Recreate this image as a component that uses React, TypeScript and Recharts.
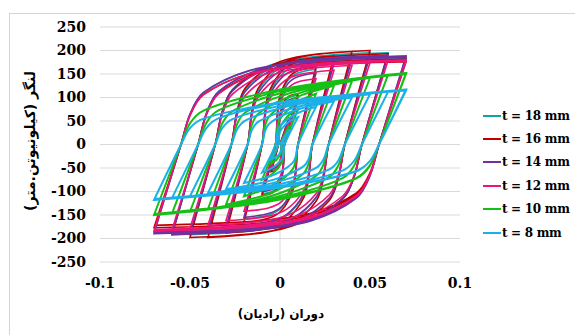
import React from 'react';
import { LineChart, CartesianGrid, XAxis, YAxis, Line, ReferenceLine } from 'recharts';

// rotation (rad) along the loading path, shared by all specimens
const rotation = [
    0, 0.005,
    0.001, 0.0008, 0.0004, -0.0008, -0.0023, -0.005,
    -0.001, -0.0006, 0.0001, 0.0023, 0.005, 0.01,
    0.0025, 0.002, 0.0013, -0.0013, -0.0044, -0.01,
    -0.0025, -0.0016, -0.0003, 0.0043, 0.0099, 0.02,
    0.01, 0.0088, 0.007, 0.001, -0.0065, -0.02,
    -0.01, -0.0084, -0.006, 0.002, 0.012, 0.03,
    0.018, 0.0161, 0.0132, 0.0036, -0.0084, -0.03,
    -0.018, -0.0157, -0.0122, -0.0006, 0.0139, 0.04,
    0.027, 0.0243, 0.0203, 0.0069, -0.0099, -0.04,
    -0.027, -0.0239, -0.0193, -0.0039, 0.0154, 0.05,
    0.036, 0.0326, 0.0274, 0.0102, -0.0113, -0.05,
    -0.036, -0.0322, -0.0264, -0.0072, 0.0168, 0.06,
    0.0455, 0.0413, 0.035, 0.0139, -0.0125, -0.06,
    -0.0455, -0.0409, -0.034, -0.0109, 0.018, 0.07,
    0.055, 0.05, 0.0425, 0.0175, -0.0138, -0.07,
    -0.055, -0.05, -0.0425, -0.0175, 0.0138, 0.07,
    0.055, 0.05, 0.0425, 0.0175, -0.0138, -0.07,
];

// moment (kN.m) for each plate thickness
const t18 = [
    0, 55,
    0, -19, -33, -47, -52, -55,
    0, 37, 63, 89, 100, 105, 0, -37, -63, -89, -100, -105,
    0, 56, 96, 136, 152, 160, 0, -55, -95, -134, -150, -158,
    0, 63, 108, 153, 171, 180, 0, -62, -107, -151, -169, -178,
    0, 67, 114, 162, 181, 190, 0, -65, -112, -159, -178, -187,
    0, 68, 117, 166, 185, 195, 0, -67, -115, -163, -182, -192,
    0, 68, 117, 166, 185, 195, 0, -67, -115, -163, -182, -192,
    0, 66, 113, 160, 179, 188, 0, -65, -112, -158, -177, -186,
    0, 64, 110, 156, 174, 183, 0, -64, -109, -155, -173, -182,
];
const t16 = [
    0, 58,
    0, -20, -35, -49, -55, -58,
    0, 38, 65, 92, 103, 108, 0, -38, -65, -92, -103, -108,
    0, 58, 99, 140, 157, 165, 0, -58, -99, -140, -157, -165,
    0, 66, 113, 160, 179, 188, 0, -66, -113, -160, -179, -188,
    0, 69, 119, 168, 188, 198, 0, -69, -119, -168, -188, -198,
    0, 70, 120, 170, 190, 200, 0, -69, -119, -168, -188, -198,
    0, 68, 116, 164, 183, 193, 0, -67, -114, -162, -181, -190,
    0, 64, 109, 155, 173, 182, 0, -62, -106, -150, -168, -177,
    0, 62, 106, 150, 167, 176, 0, -60, -103, -146, -163, -172,
];
const t14 = [
    0, 52,
    0, -18, -31, -44, -49, -52,
    0, 35, 60, 85, 95, 100, 0, -35, -60, -85, -95, -100,
    0, 53, 91, 129, 144, 152, 0, -54, -93, -132, -147, -155,
    0, 60, 103, 146, 163, 172, 0, -61, -105, -149, -166, -175,
    0, 64, 109, 155, 173, 182, 0, -65, -111, -157, -176, -185,
    0, 66, 113, 160, 179, 188, 0, -67, -114, -162, -181, -190,
    0, 67, 114, 162, 181, 190, 0, -67, -115, -163, -182, -192,
    0, 66, 113, 160, 179, 188, 0, -67, -114, -162, -181, -190,
    0, 65, 111, 157, 176, 185, 0, -65, -112, -159, -178, -187,
];
const t12 = [
    0, 48,
    0, -17, -29, -41, -46, -48,
    0, 32, 55, 78, 87, 92, 0, -32, -55, -78, -87, -92,
    0, 49, 84, 119, 133, 140, 0, -50, -85, -121, -135, -142,
    0, 55, 95, 134, 150, 158, 0, -57, -97, -138, -154, -162,
    0, 59, 101, 143, 160, 168, 0, -60, -103, -146, -163, -172,
    0, 61, 104, 148, 165, 174, 0, -62, -107, -151, -169, -178,
    0, 62, 107, 151, 169, 178, 0, -64, -109, -155, -173, -182,
    0, 63, 108, 153, 171, 180, 0, -64, -110, -156, -175, -184,
    0, 62, 106, 150, 168, 177, 0, -63, -109, -154, -172, -181,
];
const t10 = [
    0, 40,
    0, -12, -19, -27, -34, -40,
    0, 23, 36, 51, 63, 75, 0, -23, -36, -51, -63, -75,
    0, 32, 52, 73, 91, 108, 0, -33, -53, -75, -92, -110,
    0, 38, 60, 85, 105, 125, 0, -38, -61, -87, -108, -128,
    0, 41, 65, 92, 113, 135, 0, -41, -66, -93, -115, -137,
    0, 43, 68, 97, 119, 142, 0, -43, -69, -97, -120, -143,
    0, 44, 71, 101, 124, 148, 0, -44, -71, -100, -123, -147,
    0, 46, 73, 103, 128, 152, 0, -45, -72, -102, -126, -150,
    0, 45, 72, 102, 126, 150, 0, -44, -71, -101, -124, -148,
];
const t8 = [
    0, 32,
    0, -10, -15, -22, -27, -32,
    0, 17, 28, 39, 49, 58, 0, -18, -29, -41, -50, -60,
    0, 24, 38, 54, 67, 80, 0, -25, -39, -56, -69, -82,
    0, 28, 44, 63, 77, 92, 0, -29, -46, -65, -80, -95,
    0, 30, 48, 68, 84, 100, 0, -31, -49, -70, -87, -103,
    0, 32, 51, 73, 90, 107, 0, -33, -53, -75, -92, -110,
    0, 34, 54, 76, 94, 112, 0, -34, -55, -78, -96, -114,
    0, 35, 56, 80, 98, 117, 0, -35, -57, -80, -99, -118,
    0, 35, 55, 78, 97, 115, 0, -35, -56, -79, -97, -116,
];

const xTicks = [-0.1, -0.05, 0, 0.05, 0.1];
const yTicks = [-250, -200, -150, -100, -50, 0, 50, 100, 150, 200, 250];

const series = [
    { name: 't = 18 mm', values: t18, color: '#14a2a2', width: 1.6 },
    { name: 't = 16 mm', values: t16, color: '#c00000', width: 1.6 },
    { name: 't = 14 mm', values: t14, color: '#7030a0', width: 1.6 },
    { name: 't = 12 mm', values: t12, color: '#ee1574', width: 1.6 },
    { name: 't = 10 mm', values: t10, color: '#14c014', width: 2 },
    { name: 't = 8 mm', values: t8, color: '#1cb0ea', width: 2 },
];

const toPoints = (values: number[]) => rotation.map((x, i) => ({ x, m: values[i] }));

// smooth polyline (like Excel's smoothed lines) but keeps sharp corners at load reversals
const smoothCurve = (context: any) => {
    let pts: number[][] = [];
    return {
        areaStart() {},
        areaEnd() {},
        lineStart() {
            pts = [];
        },
        point(x: number, y: number) {
            pts.push([+x, +y]);
        },
        lineEnd() {
            const n = pts.length;
            if (!n) return;
            context.moveTo(pts[0][0], pts[0][1]);
            const dir = pts.map((p, i) => {
                if (i === 0 || i === n - 1) return null;
                const a = pts[i - 1];
                const b = pts[i + 1];
                const dot = (p[0] - a[0]) * (b[0] - p[0]) + (p[1] - a[1]) * (b[1] - p[1]);
                if (dot <= 0) return null;
                const tx = b[0] - a[0];
                const ty = b[1] - a[1];
                const l = Math.hypot(tx, ty);
                return l ? [tx / l, ty / l] : null;
            });
            for (let i = 0; i < n - 1; i++) {
                const p = pts[i];
                const q = pts[i + 1];
                const len = Math.hypot(q[0] - p[0], q[1] - p[1]) / 3;
                const c1 = dir[i] ? [p[0] + dir[i]![0] * len, p[1] + dir[i]![1] * len] : p;
                const c2 = dir[i + 1] ? [q[0] - dir[i + 1]![0] * len, q[1] - dir[i + 1]![1] * len] : q;
                context.bezierCurveTo(c1[0], c1[1], c2[0], c2[1], q[0], q[1]);
            }
        },
    };
};

const serif = '"DejaVu Serif", serif';
const tickStyle = { fontFamily: serif, fontWeight: 'bold', fontSize: 14, fill: '#000' };
const persian = { fontFamily: '"DejaVu Sans", sans-serif', fontWeight: 'bold', color: '#000', whiteSpace: 'nowrap' as const };

const App = () => {
    return (
        <div style={{ position: 'absolute', left: 0, top: 0, width: 575, height: 335, overflow: 'hidden', background: '#fff' }}>
            <div style={{ position: 'absolute', left: 9, top: 13, width: 600, height: 400, border: '1px solid #d4d4d4' }} />
            <LineChart width={575} height={335} margin={{ top: 27, right: 115, bottom: 43, left: 40 }}>
                <CartesianGrid vertical={false} stroke="#d9d9d9" />
                <XAxis
                    type="number"
                    dataKey="x"
                    domain={[-0.1, 0.1]}
                    ticks={xTicks}
                    axisLine={false}
                    tickLine={false}
                    tickMargin={10}
                    height={30}
                    tick={tickStyle}
                />
                <YAxis
                    type="number"
                    domain={[-250, 250]}
                    ticks={yTicks}
                    axisLine={false}
                    tickLine={false}
                    tickMargin={8}
                    width={60}
                    tick={tickStyle}
                />
                <ReferenceLine x={0} stroke="#d9d9d9" />
                {series.map((s) => (
                    <Line
                        key={s.name}
                        data={toPoints(s.values)}
                        dataKey="m"
                        name={s.name}
                        type={smoothCurve as any}
                        stroke={s.color}
                        strokeWidth={s.width}
                        dot={false}
                        activeDot={false}
                        isAnimationActive={false}
                    />
                ))}
            </LineChart>
            <div style={{ ...persian, fontSize: 14, position: 'absolute', left: 30, top: 141, transform: 'translate(-50%, -50%) rotate(-90deg)' }}>
                لنگر (کیلونیوتن.متر)
            </div>
            <div style={{ ...persian, fontSize: 12, position: 'absolute', left: 281, top: 314, transform: 'translate(-50%, -50%)' }}>
                دوران (رادیان)
            </div>
            <div style={{ position: 'absolute', left: 483, top: 104 }}>
                {series.map((s) => (
                    <div key={s.name} style={{ display: 'flex', alignItems: 'center', height: 23.4 }}>
                        <span style={{ display: 'inline-block', width: 18, height: 2, background: s.color }} />
                        <span style={{ fontFamily: serif, fontWeight: 'bold', fontSize: 12, letterSpacing: -0.3, color: '#000', marginLeft: 1, whiteSpace: 'nowrap' }}>
                            {s.name}
                        </span>
                    </div>
                ))}
            </div>
        </div>
    );
};

export default App;
